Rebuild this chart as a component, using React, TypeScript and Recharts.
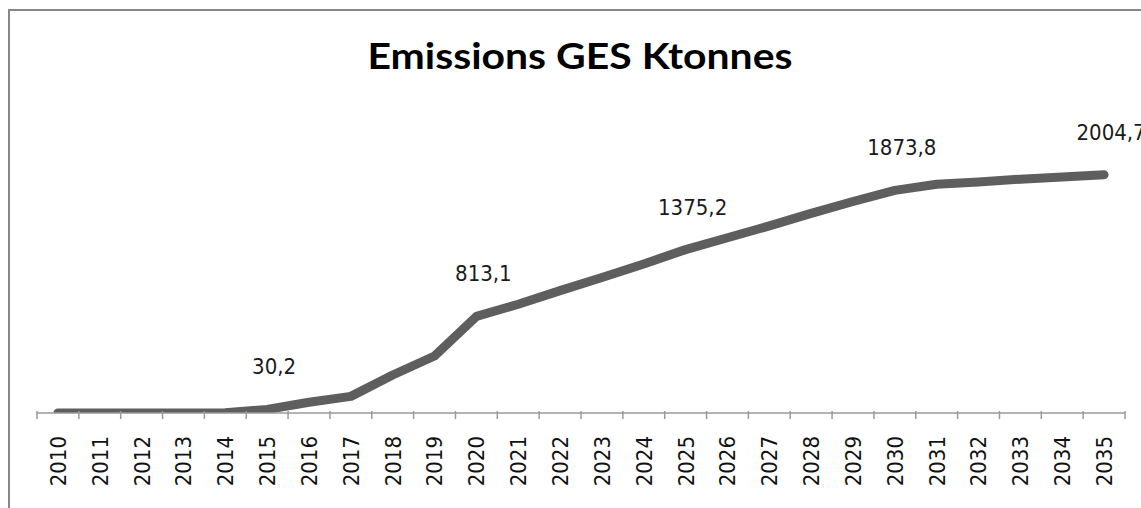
import React from 'react';
import { LineChart, Line, XAxis, YAxis, LabelList } from 'recharts';

const years = [
  '2010', '2011', '2012', '2013', '2014', '2015', '2016', '2017', '2018',
  '2019', '2020', '2021', '2022', '2023', '2024', '2025', '2026', '2027',
  '2028', '2029', '2030', '2031', '2032', '2033', '2034', '2035',
];

const emissions = [
  0, 0, 0, 0, 2, 30.2, 90, 140, 320,
  480, 813.1, 915, 1030, 1140, 1255, 1375.2, 1475, 1575,
  1680, 1780, 1873.8, 1925, 1945, 1968, 1986, 2004.7,
];

const labeledYears = ['2015', '2020', '2025', '2030', '2035'];

const data = years.map((year, i) => ({ year, value: emissions[i] }));

const W = 1141;
const H = 508;
const margin = { top: 116, right: 16, bottom: 15, left: 37 };
const axisHeight = 80;
const bandWidth = (W - margin.left - margin.right) / years.length;

const fmt = (v: number) => v.toFixed(1).replace('.', ',');

const YearTick = (props: any) => {
  const { x, y, payload, index } = props;
  const left = x - bandWidth / 2;
  const axisY = y - 8;
  return (
    <g>
      <line x1={left} y1={axisY} x2={left} y2={axisY + 8} stroke="#9a9a9a" strokeWidth={1.5} />
      {index === years.length - 1 && (
        <line x1={x + bandWidth / 2} y1={axisY} x2={x + bandWidth / 2} y2={axisY + 8} stroke="#9a9a9a" strokeWidth={1.5} />
      )}
      <text
        x={x}
        y={axisY + 25}
        dy="0.36em"
        transform={`rotate(-90 ${x} ${axisY + 25})`}
        textAnchor="end"
        fontFamily="'DejaVu Sans Condensed', 'DejaVu Sans', sans-serif"
        fontSize={22}
        fill="#111"
      >
        {payload.value}
      </text>
    </g>
  );
};

const ValueLabel = (props: any) => {
  const { x, y, value, index } = props;
  if (!labeledYears.includes(years[index])) return null;
  return (
    <text
      x={x + 7}
      y={y - 35}
      textAnchor="middle"
      fontFamily="'DejaVu Sans Condensed', 'DejaVu Sans', sans-serif"
      fontSize={22}
      fill="#1a1a1a"
    >
      {fmt(value)}
    </text>
  );
};

export default function App() {
  return (
    <div style={{ position: 'relative', width: W, height: H, overflow: 'hidden', background: '#fff' }}>
      <style>{`body { margin: 0; }`}</style>
      <div
        style={{
          position: 'absolute',
          left: 8,
          top: 9,
          width: 1300,
          height: 700,
          border: '2px solid #878787',
        }}
      />
      <svg width={W} height={H} style={{ position: 'absolute', left: 0, top: 0, pointerEvents: 'none' }}>
        <text
          x={580}
          y={69}
          textAnchor="middle"
          fontFamily="Lato, 'Open Sans', sans-serif"
          fontWeight="bold"
          fontSize={36}
          fill="#000"
          textLength={425}
          lengthAdjust="spacingAndGlyphs"
        >
          Emissions GES Ktonnes
        </text>
      </svg>
      <div style={{ position: 'absolute', left: 0, top: 0 }}>
        <LineChart width={W} height={H} data={data} margin={margin}>
          <XAxis
            dataKey="year"
            scale="band"
            height={axisHeight}
            interval={0}
            axisLine={{ stroke: '#9a9a9a', strokeWidth: 1.5 }}
            tickLine={false}
            tick={<YearTick />}
            tickMargin={0}
          />
          <YAxis hide domain={[0, 2500]} allowDataOverflow />
          <Line
            type="linear"
            dataKey="value"
            stroke="#5e5e5e"
            strokeWidth={9}
            strokeLinecap="round"
            strokeLinejoin="round"
            dot={false}
            isAnimationActive={false}
          >
            <LabelList dataKey="value" content={<ValueLabel />} />
          </Line>
        </LineChart>
      </div>
    </div>
  );
}
